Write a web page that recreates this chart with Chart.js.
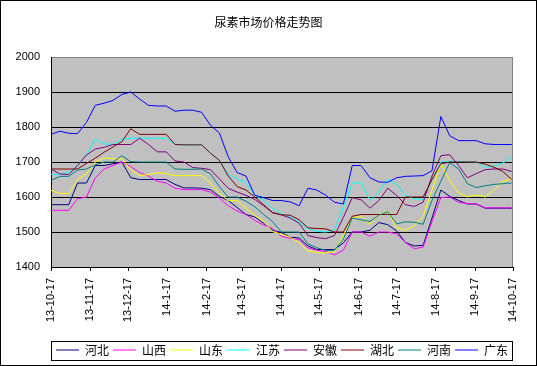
<!DOCTYPE html>
<html><head><meta charset="utf-8">
<script src="https://cdn.jsdelivr.net/npm/chart.js@4/dist/chart.umd.min.js"></script>
<style>html,body{margin:0;padding:0;background:#fff}#wrap{width:537px;height:366px}</style>
</head><body><div id="wrap"><canvas id="c" width="537" height="366"></canvas></div>
<script>
const chartTitle = '尿素市场价格走势图';
const dates = ['2013-10-17','2013-10-24','2013-10-31','2013-11-07','2013-11-14','2013-11-21','2013-11-28','2013-12-05','2013-12-12','2013-12-19','2013-12-26',
'2014-01-02','2014-01-09','2014-01-16','2014-01-23','2014-01-30','2014-02-06','2014-02-13','2014-02-20','2014-02-27','2014-03-06','2014-03-13','2014-03-20','2014-03-27',
'2014-04-03','2014-04-10','2014-04-17','2014-04-24','2014-05-01','2014-05-08','2014-05-15','2014-05-22','2014-05-29','2014-06-05','2014-06-12','2014-06-19','2014-06-26',
'2014-07-03','2014-07-10','2014-07-17','2014-07-24','2014-07-31','2014-08-07','2014-08-14','2014-08-21','2014-08-28','2014-09-04','2014-09-11','2014-09-18','2014-09-25',
'2014-10-02','2014-10-09','2014-10-16'];
const tickLabels = ['13-10-17','13-11-17','13-12-17','14-1-17','14-2-17','14-3-17','14-4-17','14-5-17','14-6-17','14-7-17','14-8-17','14-9-17','14-10-17'];
const yMin = 1400, yMax = 2000, yStep = 100;
const seriesNames = ['河北','山西','山东','江苏','安徽','湖北','河南','广东'];
const seriesColors = ['#000080','#FF00FF','#FFFF00','#00FFFF','#800080','#800000','#008080','#0000FF'];
const hebei = [1578,1578,1578,1640,1640,1690,1690,1695,1700,1655,1650,1650,1650,1650,1636,1626,1626,1625,1621,1602,1590,1570,1550,1543,1525,1505,1499,1485,1483,1460,1450,1450,1450,1469,1500,1500,1505,1527,1521,1503,1470,1460,1462,1540,1620,1602,1590,1580,1580,1568,1568,1568,1568];
const shanxi = [1562,1562,1562,1595,1600,1655,1680,1690,1700,1687,1670,1660,1645,1640,1625,1621,1621,1621,1614,1597,1575,1560,1550,1533,1520,1510,1488,1482,1478,1455,1448,1444,1435,1448,1500,1500,1488,1500,1500,1495,1470,1452,1457,1530,1598,1600,1585,1581,1581,1569,1569,1569,1569];
const shandong = [1619,1610,1610,1650,1666,1700,1712,1709,1709,1678,1661,1664,1669,1667,1661,1661,1661,1661,1640,1610,1590,1590,1568,1548,1530,1501,1494,1485,1470,1446,1442,1440,1443,1490,1540,1545,1522,1550,1559,1512,1505,1518,1545,1620,1695,1648,1612,1600,1606,1600,1620,1645,1652];
const jiangsu = [1665,1665,1670,1690,1720,1765,1752,1750,1765,1768,1768,1768,1768,1768,1750,1749,1749,1749,1726,1705,1665,1652,1641,1605,1590,1568,1552,1542,1528,1510,1502,1500,1505,1570,1640,1640,1590,1615,1650,1636,1605,1595,1592,1650,1700,1702,1702,1701,1700,1685,1688,1697,1716];
const anhui = [1680,1666,1664,1690,1720,1737,1742,1750,1750,1750,1768,1750,1729,1729,1703,1700,1684,1682,1678,1652,1625,1614,1605,1593,1575,1556,1549,1540,1525,1490,1484,1481,1490,1542,1598,1592,1568,1590,1625,1605,1578,1573,1585,1660,1718,1721,1690,1655,1667,1678,1680,1680,1673];
const hubei = [1680,1680,1680,1680,1696,1711,1728,1743,1758,1795,1779,1779,1779,1779,1750,1749,1749,1749,1725,1705,1660,1630,1620,1600,1578,1555,1549,1548,1535,1512,1510,1509,1500,1500,1545,1550,1550,1550,1550,1550,1600,1600,1600,1650,1695,1700,1700,1700,1700,1694,1685,1673,1650];
const henan = [1647,1659,1659,1677,1680,1692,1700,1700,1718,1701,1700,1700,1700,1700,1680,1679,1679,1680,1666,1630,1600,1600,1588,1572,1550,1530,1500,1500,1500,1466,1455,1447,1448,1480,1540,1535,1530,1548,1558,1523,1529,1528,1522,1590,1645,1698,1680,1638,1627,1632,1636,1638,1640];
const guangdong = [1779,1788,1782,1781,1813,1862,1868,1876,1893,1900,1880,1862,1860,1860,1845,1848,1848,1842,1805,1783,1715,1670,1660,1605,1598,1590,1590,1586,1575,1625,1620,1605,1585,1580,1690,1690,1655,1643,1642,1655,1659,1660,1661,1675,1830,1775,1761,1761,1761,1752,1750,1750,1750];
const seriesValues = [hebei, shanxi, shandong, jiangsu, anhui, hubei, henan, guangdong];

const DAY = 86400000;
const t0 = Date.parse(dates[0] + 'T00:00:00Z');
const dayOf = s => Math.round((Date.parse(s + 'T00:00:00Z') - t0) / DAY);
const labelToIso = l => { const p = l.split('-'); return (2000 + +p[0]) + '-' + String(p[1]).padStart(2,'0') + '-' + String(p[2]).padStart(2,'0'); };
const tickDays = tickLabels.map(l => dayOf(labelToIso(l)));
const xDays = dates.map(dayOf);

const datasets = seriesNames.map((name, i) => ({
  label: name,
  data: seriesValues[i].map((v, k) => ({x: xDays[k], y: v})),
  borderColor: seriesColors[i],
  backgroundColor: seriesColors[i],
  borderWidth: 1,
  pointRadius: 0,
  tension: 0,
  fill: false,
  order: seriesNames.length - i
}));

const framePlugin = {
  id: 'frame',
  beforeDraw(chart) {
    const {ctx, chartArea: a} = chart;
    ctx.save();
    ctx.fillStyle = '#fff';
    ctx.fillRect(0, 0, chart.width, chart.height);
    ctx.fillStyle = '#C0C0C0';
    ctx.fillRect(a.left, a.top, a.right - a.left, a.bottom - a.top);
    ctx.restore();
  },
  afterDraw(chart) {
    const {ctx, chartArea: a} = chart;
    ctx.save();
    ctx.lineWidth = 1;
    ctx.strokeStyle = '#808080';
    const rx = Math.round(a.right) - 0.5;
    ctx.beginPath(); ctx.moveTo(rx, Math.round(a.top)); ctx.lineTo(rx, Math.round(a.bottom)); ctx.stroke();
    ctx.strokeStyle = '#000';
    ctx.strokeRect(0.5, 0.5, chart.width - 1, chart.height - 1);
    const lg = chart.legend;
    const top = Math.round(lg.top) + 1.5;
    ctx.strokeRect(Math.round(a.left) + 0.5, top, Math.round(a.right - a.left) - 1, 19);
    ctx.restore();
  }
};

new Chart(document.getElementById('c'), {
  type: 'line',
  data: {datasets},
  plugins: [framePlugin],
  options: {
    responsive: false,
    animation: false,
    devicePixelRatio: 1,
    layout: {padding: {left: 12, right: 12, top: 0, bottom: 0}},
    plugins: {
      tooltip: {enabled: false},
      title: {
        display: true, text: chartTitle, color: '#000',
        font: {family: '"Noto Sans CJK SC", sans-serif', size: 12, weight: 'normal', lineHeight: 1},
        padding: {top: 16, bottom: 29}
      },
      legend: {
        display: true, position: 'bottom', fullSize: false,
        labels: {
          usePointStyle: true, pointStyle: 'line', pointStyleWidth: 23,
          color: '#000', padding: 4,
          font: {family: '"Noto Sans CJK SC", sans-serif', size: 12},
          sort: (a, b) => a.datasetIndex - b.datasetIndex
        }
      }
    },
    scales: {
      x: {
        type: 'linear', min: tickDays[0], max: tickDays[tickDays.length - 1],
        afterBuildTicks: s => { s.ticks = tickDays.map(v => ({value: v})); },
        afterFit: s => { s.height = 73; },
        ticks: {
          autoSkip: false, maxRotation: 90, minRotation: 90, padding: 7,
          color: '#000', font: {family: '"Liberation Sans", Arial, sans-serif', size: 11},
          callback: (v, i) => tickLabels[i]
        },
        grid: {drawOnChartArea: false, drawTicks: true, tickLength: 4, color: '#000'},
        border: {display: true, color: '#000'}
      },
      y: {
        min: yMin, max: yMax,
        afterFit: s => { s.width = 39; },
        ticks: {stepSize: yStep, padding: 11, color: '#000', font: {family: '"Liberation Sans", Arial, sans-serif', size: 11},
          callback: v => String(v)},
        grid: {drawTicks: false, color: c => (c.tick && c.tick.value === yMax) ? '#808080' : '#000'},
        border: {display: true, color: '#000'}
      },
      yR: {
        position: 'right', display: true,
        afterFit: s => { s.width = 12; },
        ticks: {display: false}, grid: {display: false}, border: {display: false}
      }
    }
  }
});
</script></body></html>
